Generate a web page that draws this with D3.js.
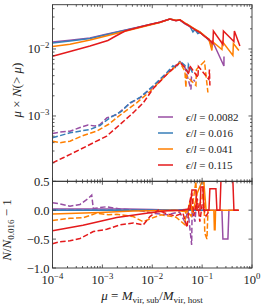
<!DOCTYPE html>
<html><head><meta charset="utf-8">
<script src="https://cdn.jsdelivr.net/npm/d3@7"></script>
<style>body{margin:0;background:#fff}svg{display:block}text{font-family:"Liberation Serif","DejaVu Serif",serif;fill:#222}</style>
</head><body><svg id="c" width="266" height="307"></svg>
<script>
// ---- data ----
const seriesNames = ["0.0082","0.016","0.041","0.115"];
const seriesColors = ["#984ea3","#377eb8","#ff7f00","#e41a1c"];
// top panel: mu x N(>mu), solid
const solidPurple = [[1e-4,0.0127],[2.24e-4,0.0135],[5.65e-4,0.01459],[1.13e-3,0.0164],[2.25e-3,0.0184],[5.67e-3,0.0214],[1.42e-2,0.02512],[2.26e-2,0.0281],[2.99e-2,0.0267],[3.59e-2,0.027],[4.52e-2,0.0238],[5.7e-2,0.0215],[7.18e-2,0.0196],[9.04e-2,0.0178],[0.1138,0.0155],[0.1432,0.01294],[0.157,0.01052],[0.1592,0.01341],[0.2735,0.00557],[0.2744,0.00773]];
const solidBlue = [[1e-4,0.0123],[2.24e-4,0.01316],[5.65e-4,0.01436],[1.13e-3,0.01618],[2.25e-3,0.01825],[5.67e-3,0.0213],[1.42e-2,0.02512],[2.26e-2,0.02805],[2.99e-2,0.02661],[3.59e-2,0.0271],[4.52e-2,0.02404],[5.19e-2,0.023],[5.7e-2,0.02168],[6.54e-2,0.018],[7.18e-2,0.01954],[8.2e-2,0.017],[9.04e-2,0.01762],[0.1138,0.01538],[0.1368,0.01387]];
const solidOrange = [[1e-4,0.01089],[2.24e-4,0.0118],[5.65e-4,0.01361],[1.13e-3,0.0155],[2.25e-3,0.01762],[5.67e-3,0.02094],[1.42e-2,0.02489],[2.26e-2,0.0279],[2.99e-2,0.0268],[3.59e-2,0.0272],[4.52e-2,0.0245],[5.7e-2,0.0222],[7.18e-2,0.0198],[9.04e-2,0.018],[0.1138,0.0156],[0.1368,0.014],[0.157,0.0095],[0.1607,0.01294],[0.2494,0.00983],[0.2552,0.01294],[0.414,0.008],[0.4236,0.01208],[0.5458,0.0095]];
const solidRed = [[1e-4,0.00781],[2.24e-4,0.00918],[5.65e-4,0.01109],[1.29e-3,0.01341],[1.71e-3,0.0151],[2.84e-3,0.01857],[5.67e-3,0.0213],[8.99e-3,0.02323],[1.42e-2,0.025],[2.26e-2,0.0279],[2.99e-2,0.0265],[3.59e-2,0.0272],[4.52e-2,0.0242],[5.7e-2,0.0218],[7.18e-2,0.0194],[9.04e-2,0.0176],[0.1138,0.0153],[0.1368,0.0139],[0.1644,0.01208],[0.1683,0.01857],[0.2612,0.01167],[0.2673,0.01857],[0.4335,0.01294],[0.4436,0.01857],[0.5715,0.01109]];
// top panel, dashed
const dashPurple = [[1e-4,5.48e-4],[1.41e-4,5.77e-4],[2.24e-4,5.93e-4],[3.56e-4,6.73e-4],[5.14e-4,7.34e-4],[7.1e-4,7.09e-4],[8.95e-4,7.46e-4],[1.24e-3,9.4e-4],[1.96e-3,1.05e-3],[3.57e-3,1.55e-3],[5.67e-3,1.87e-3],[1.03e-2,2.72e-3],[1.95e-2,4.3e-3],[3.59e-2,6.5e-3],[4.52e-2,5.3e-3],[5.97e-2,2.49e-3],[6.11e-2,3.76e-3],[7.18e-2,3.27e-3]];
const dashBlue = [[1e-4,4.73e-4],[2.24e-4,5.61e-4],[5.65e-4,6.29e-4],[8.95e-4,7.21e-4],[1.42e-3,9.4e-4],[2.44e-3,1.18e-3],[3.57e-3,1.57e-3],[5.67e-3,1.89e-3],[1.03e-2,2.79e-3],[1.95e-2,4.42e-3],[2.6e-2,5.6e-3],[3.0e-2,5.2e-3],[3.59e-2,6.58e-3],[4.52e-2,5.68e-3],[5.19e-2,4.46e-3],[5.31e-2,5.87e-3],[6.54e-2,4.31e-3]];
const dashOrange = [[1e-4,4.21e-4],[1.41e-4,3.98e-4],[2.24e-4,4.21e-4],[4.14e-4,5.12e-4],[7.69e-4,5.93e-4],[1.31e-3,7.46e-4],[2.62e-3,1.12e-3],[4.86e-3,1.57e-3],[8.99e-3,2.32e-3],[1.95e-2,4.16e-3],[3.59e-2,6.29e-3],[4.52e-2,4.62e-3],[4.73e-2,2.66e-3],[4.84e-2,4.02e-3],[7.51e-2,2.85e-3],[7.69e-2,4.94e-3],[0.1112,6.5e-3],[0.1138,5.68e-3],[0.1306,2.24e-3]];
const dashRed = [[1e-4,2.0e-4],[1.64e-4,2.38e-4],[3.56e-4,3.16e-4],[6.58e-4,3.98e-4],[1.22e-3,5.0e-4],[2.25e-3,7.46e-4],[4.16e-3,1.12e-3],[6.6e-3,1.57e-3],[1.05e-2,2.57e-3],[1.95e-2,4.16e-3],[3.59e-2,6.29e-3],[4.52e-2,5.3e-3],[5.43e-2,4.16e-3],[5.56e-2,5.68e-3],[8.24e-2,3.76e-3],[8.43e-2,5.48e-3],[0.1368,3.51e-3],[0.14,4.94e-3],[0.1432,2.85e-3]];
// bottom panel: N/N_0.016 - 1
const ratioSolidPurple = [[1e-4,0.02],[3e-3,0.02],[1e-2,0.01],[3e-2,0.0],[0.06,0.02],[0.1,0.0],[0.2494,0],[0.2612,-0.5],[0.3289,-0.5],[0.3444,0],[0.5212,0]];
const ratioSolidBlue = [[1e-4,0],[0.1368,0]];
const ratioSolidOrange = [[1e-4,-0.066],[8.95e-4,-0.04],[4.16e-3,-0.015],[1e-2,-0.01],[3e-2,0.0],[0.05,-0.03],[0.058,0.15],[0.065,-0.05],[0.08,0.3],[0.1,0.5],[0.108,0.5],[0.12,0.0],[0.172,0],[0.176,-0.34],[0.182,-0.34],[0.186,0],[0.5458,0]];
const ratioSolidRed = [[1e-4,-0.355],[4.08e-4,-0.26],[1.94e-3,-0.125],[8.99e-3,-0.045],[2e-2,-0.01],[0.04,0.0],[0.0575,0.02],[0.0625,0.35],[0.0751,0.35],[0.0787,0.0],[0.0904,0.0],[0.0946,0.4],[0.104,0.4],[0.108,0.0],[0.137,0.0],[0.143,0.37],[0.189,0.37],[0.198,0.0],[0.2274,0.0],[0.2382,0.5],[0.414,0.5],[0.434,0.0],[0.546,0.0]];
const ratioDashPurple = [[1e-4,0.13],[1.41e-4,0.11],[2.24e-4,0.07],[3.56e-4,0.1],[5.14e-4,0.2],[6.11e-4,0.26],[6.58e-4,0.03],[1.22e-3,0.06],[2.25e-3,0.02],[5e-3,0.0],[1e-2,-0.05],[2e-2,-0.08],[3.5e-2,-0.03],[4.5e-2,-0.2],[5.2e-2,0.0],[6.17e-2,-0.6],[6.3e-2,0.0],[7.2e-2,-0.2],[7.5e-2,0.0]];
const ratioDashBlue = [[1e-4,0],[6.54e-2,0]];
const ratioDashOrange = [[1e-4,-0.18],[1.41e-4,-0.16],[2.24e-4,-0.14],[4.14e-4,-0.13],[7.69e-4,-0.05],[1.31e-3,-0.08],[1.94e-3,-0.07],[4.16e-3,-0.11],[6.6e-3,-0.2],[8.99e-3,-0.15],[1.5e-2,-0.08],[3e-2,-0.12],[4.5e-2,-0.25],[4.73e-2,0.0],[6.0e-2,-0.1],[7.5e-2,0.5],[8.0e-2,0.0],[0.1,0.2],[0.107,0.5],[0.113,-0.4],[0.125,-0.5],[0.131,0.0]];
const ratioDashRed = [[1e-4,-0.58],[1.41e-4,-0.545],[2.24e-4,-0.53],[3.56e-4,-0.49],[6.58e-4,-0.37],[1.22e-3,-0.33],[2.25e-3,-0.255],[4.16e-3,-0.22],[6.6e-3,-0.255],[8.99e-3,-0.11],[1.32e-2,0.0],[1.8e-2,-0.05],[2.85e-2,-0.1],[4.12e-2,-0.05],[5.0e-2,-0.3],[5.5e-2,0.1],[6.2e-2,0.3],[6.8e-2,-0.1],[8.0e-2,0.2],[9.0e-2,-0.2],[0.1,0.1],[0.12,-0.1],[0.143,0.0]];
// ticks
const xTickVals = [1e-4,1e-3,1e-2,1e-1,1];
const xTickExp = ["\u22124","\u22123","\u22122","\u22121","0"];
const yTopTickVals = [1e-3,1e-2];
const yTopTickExp = ["\u22123","\u22122"];
const yBotTickVals = [-1,-0.5,0,0.5];
const yBotTickLabels = ["\u22121.0","\u22120.5","0.0","0.5"];

// ---- layout ----
const L=52.5, R=252, T=4.7, M=181.3, B=268;
const svg = d3.select("#c");
const x = d3.scaleLog().domain([1e-4,1]).range([L,R]);
const yT = d3.scaleLog().domain([Math.pow(10,-3.975),Math.pow(10,-1.339)]).range([M,T]);
const yB = d3.scaleLinear().domain([-1,0.5]).range([B,M]);

const defs = svg.append("defs");
defs.append("clipPath").attr("id","cT").append("rect").attr("x",L).attr("y",T).attr("width",R-L).attr("height",M-T);
defs.append("clipPath").attr("id","cB").append("rect").attr("x",L).attr("y",M).attr("width",R-L).attr("height",B-M);

const lineT = d3.line().x(d=>x(d[0])).y(d=>yT(d[1]));
const lineB = d3.line().x(d=>x(d[0])).y(d=>yB(d[1]));

const gT = svg.append("g").attr("clip-path","url(#cT)");
const gB = svg.append("g").attr("clip-path","url(#cB)");
const dashes = "5.5,2.4";
const topSolid=[solidPurple,solidBlue,solidOrange,solidRed];
const topDash=[dashPurple,dashBlue,dashOrange,dashRed];
const botSolid=[ratioSolidPurple,ratioSolidBlue,ratioSolidOrange,ratioSolidRed];
const botDash=[ratioDashPurple,ratioDashBlue,ratioDashOrange,ratioDashRed];
for(let i=0;i<4;i++){
  gT.append("path").attr("d",lineT(topDash[i])).attr("fill","none").attr("stroke",seriesColors[i]).attr("stroke-width",1.5).attr("stroke-dasharray",dashes);
  gT.append("path").attr("d",lineT(topSolid[i])).attr("fill","none").attr("stroke",seriesColors[i]).attr("stroke-width",1.5);
  gB.append("path").attr("d",lineB(botDash[i])).attr("fill","none").attr("stroke",seriesColors[i]).attr("stroke-width",1.5).attr("stroke-dasharray",dashes);
  gB.append("path").attr("d",lineB(botSolid[i])).attr("fill","none").attr("stroke",seriesColors[i]).attr("stroke-width",1.5);
}

// ---- axes frames & ticks (inward, all sides) ----
const axc="#333";
function frame(y0,y1){
  svg.append("rect").attr("x",L).attr("y",y0).attr("width",R-L).attr("height",y1-y0).attr("fill","none").attr("stroke",axc).attr("stroke-width",0.9);
}
frame(T,M); frame(M,B);
const tk = svg.append("g").attr("stroke",axc).attr("stroke-width",0.8);
const xMinor=[];
for(let e=-4;e<0;e++) for(let m=2;m<10;m++) xMinor.push(m*Math.pow(10,e));
function xTicks(y0,y1){
  xTickVals.forEach(v=>{const px=x(v);
    tk.append("line").attr("x1",px).attr("x2",px).attr("y1",y1).attr("y2",y1-3.5);
    tk.append("line").attr("x1",px).attr("x2",px).attr("y1",y0).attr("y2",y0+3.5);});
  xMinor.forEach(v=>{const px=x(v);
    tk.append("line").attr("x1",px).attr("x2",px).attr("y1",y1).attr("y2",y1-2);
    tk.append("line").attr("x1",px).attr("x2",px).attr("y1",y0).attr("y2",y0+2);});
}
xTicks(T,M); xTicks(M,B);
const yMinor=[];
for(let e=-4;e<-1;e++) for(let m=2;m<10;m++){const v=m*Math.pow(10,e); if(v>yT.domain()[0]&&v<yT.domain()[1]) yMinor.push(v);}
yTopTickVals.forEach(v=>{const py=yT(v);
  tk.append("line").attr("x1",L).attr("x2",L+3.5).attr("y1",py).attr("y2",py);
  tk.append("line").attr("x1",R).attr("x2",R-3.5).attr("y1",py).attr("y2",py);});
yMinor.forEach(v=>{const py=yT(v);
  tk.append("line").attr("x1",L).attr("x2",L+2).attr("y1",py).attr("y2",py);
  tk.append("line").attr("x1",R).attr("x2",R-2).attr("y1",py).attr("y2",py);});
yBotTickVals.forEach(v=>{const py=yB(v);
  tk.append("line").attr("x1",L).attr("x2",L+3.5).attr("y1",py).attr("y2",py);
  tk.append("line").attr("x1",R).attr("x2",R-3.5).attr("y1",py).attr("y2",py);});

// ---- tick labels ----
const fs=12.5;
xTickVals.forEach((v,i)=>{
  const t=svg.append("text").attr("x",x(v)).attr("y",284).attr("text-anchor","middle").attr("font-size",fs);
  t.append("tspan").text("10");
  t.append("tspan").attr("font-size",fs*0.7).attr("dy",-5).text(xTickExp[i]);
});
yTopTickVals.forEach((v,i)=>{
  const t=svg.append("text").attr("x",L-3).attr("y",yT(v)+4.5).attr("text-anchor","end").attr("font-size",fs);
  t.append("tspan").text("10");
  t.append("tspan").attr("font-size",fs*0.7).attr("dy",-5).text(yTopTickExp[i]);
});
yBotTickVals.forEach((v,i)=>{
  svg.append("text").attr("x",L-3).attr("y",yB(v)+4.5).attr("text-anchor","end").attr("font-size",fs).text(yBotTickLabels[i]);
});

// ---- axis labels ----
{
  const t=svg.append("text").attr("transform","translate(21,90) rotate(-90)").attr("text-anchor","middle").attr("font-size",13);
  t.append("tspan").attr("font-style","italic").text("μ");
  t.append("tspan").text(" × ");
  t.append("tspan").attr("font-style","italic").text("N");
  t.append("tspan").text("(> ");
  t.append("tspan").attr("font-style","italic").text("μ");
  t.append("tspan").text(")");
}
{
  const t=svg.append("text").attr("transform","translate(11,230) rotate(-90)").attr("text-anchor","middle").attr("font-size",13);
  t.append("tspan").attr("font-style","italic").text("N");
  t.append("tspan").text("/");
  t.append("tspan").attr("font-style","italic").text("N");
  t.append("tspan").attr("font-size",9).attr("dy",2.5).text("0.016");
  t.append("tspan").attr("dy",-2.5).text(" − 1");
}
{
  const t=svg.append("text").attr("x",152).attr("y",300).attr("text-anchor","middle").attr("font-size",13);
  t.append("tspan").attr("font-style","italic").text("μ");
  t.append("tspan").text(" = ");
  t.append("tspan").attr("font-style","italic").text("M");
  t.append("tspan").attr("font-size",9).attr("dy",2.5).text("vir, sub");
  t.append("tspan").attr("dy",-2.5).text("/");
  t.append("tspan").attr("font-style","italic").text("M");
  t.append("tspan").attr("font-size",9).attr("dy",2.5).text("vir, host");
}

// ---- legend ----
seriesNames.forEach((n,i)=>{
  const ly=117+i*16;
  svg.append("line").attr("x1",158).attr("x2",173).attr("y1",ly).attr("y2",ly).attr("stroke",seriesColors[i]).attr("stroke-width",1.5);
  const t=svg.append("text").attr("x",186).attr("y",ly+4).attr("font-size",11);
  t.append("tspan").attr("font-style","italic").text("ϵ");
  t.append("tspan").text("/");
  t.append("tspan").attr("font-style","italic").text("l");
  t.append("tspan").text(" = "+n);
});
</script></body></html>
